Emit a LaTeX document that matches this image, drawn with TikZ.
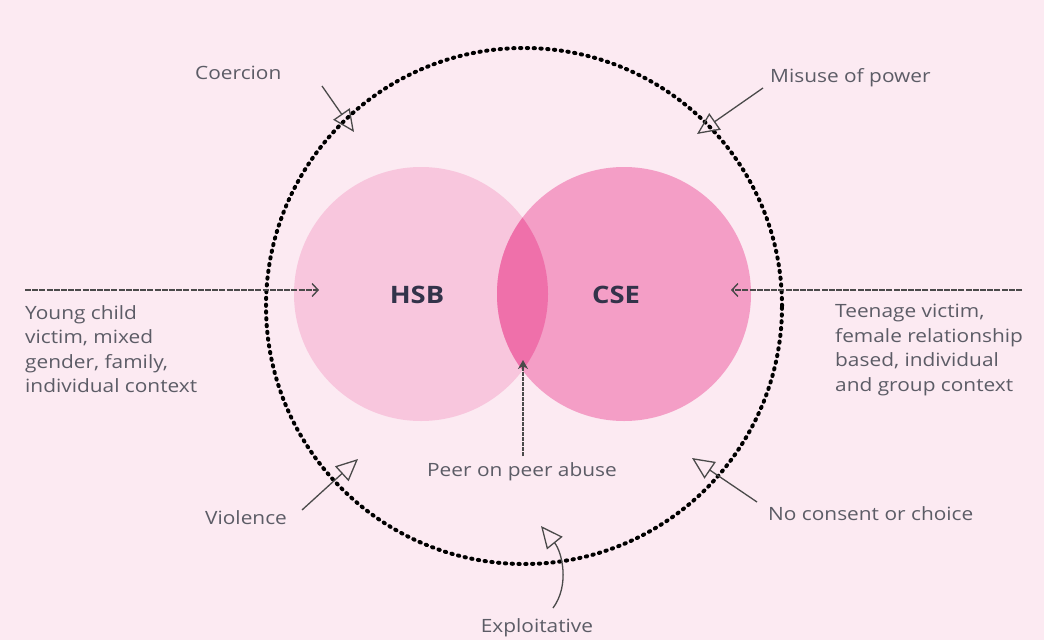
\documentclass[tikz,border=0pt]{standalone}
\usepackage{fontspec}
\setmainfont{Open Sans}
\newfontfamily\widefont[FakeStretch=1.14]{Open Sans}
\usetikzlibrary{arrows.meta}
\definecolor{bgpink}{HTML}{FCEAF2}
\definecolor{hsbpink}{HTML}{F8C6DD}
\definecolor{csepink}{HTML}{F49EC6}
\definecolor{lenspink}{HTML}{EF70AA}
\definecolor{labelgray}{HTML}{5C5C66}
\definecolor{titlenavy}{HTML}{33334A}
\definecolor{arrowgray}{HTML}{4A4A4A}
\tikzset{
  lbl/.style={text=labelgray, font=\widefont\fontsize{18.3}{24.5}\selectfont, inner sep=0pt},
  lblblock/.style={lbl, align=left, anchor=north west},
  title/.style={text=titlenavy, font=\widefont\fontsize{24}{28}\selectfont\bfseries, inner sep=0pt},
  hand/.style={draw=arrowgray, line width=1.3pt, -{Triangle[open, length=22pt, width=20pt, line width=1.3pt]}},
  context/.style={draw=arrowgray, line width=2.2pt, dash pattern=on 6pt off 1.2pt, -{Straight Barb[length=6pt, width=13pt, line width=1.4pt]}},
  peer/.style={draw=arrowgray, line width=2pt, dash pattern=on 4pt off 1pt, -{Stealth[length=9pt, width=10pt]}},
  boundary/.style={draw=black, line width=4pt, dash pattern=on 1.3pt off 5.5pt, line cap=round, circle, inner sep=0pt, minimum size=516pt}
}
\begin{document}
\begin{tikzpicture}[x=1pt,y=-1pt]
\useasboundingbox (0,0) rectangle (1044,640);
\fill[bgpink] (0,0) rectangle (1044,640);
% Venn circles
\fill[hsbpink] (421,294) circle[radius=127pt];
\fill[csepink] (624,294) circle[radius=127pt];
\begin{scope}
  \clip (421,294) circle[radius=127pt];
  \fill[lenspink] (624,294) circle[radius=127pt];
\end{scope}
\node[circle, inner sep=0pt, minimum size=254pt] (hsbc) at (421,294) {};
\node[circle, inner sep=0pt, minimum size=254pt] (csec) at (624,294) {};
\node[title] (hsb) at (417,295) {HSB};
\node[title] (cse) at (616,295) {CSE};
% outer dotted boundary
\node[boundary] (outer) at (524,306) {};
% labels
\node[lbl, anchor=west] (coercion) at (195,73) {Coercion};
\node[lbl, anchor=west] (misuse) at (770,78) {Misuse of power};
\node[lbl, anchor=west] (violence) at (205,518) {Violence};
\node[lbl, anchor=west] (noconsent) at (768,514) {No consent or choice};
\node[lbl] (peer) at (522,472) {Peer on peer abuse};
\node[lbl] (exploit) at (537,628) {Exploitative};
\node[lblblock] (young) at (25,305) {Young child\\victim, mixed\\gender, family,\\individual context};
\node[lblblock] (teen) at (835,304) {Teenage victim,\\female relationship\\based, individual\\and group context};
% arrow end points
\coordinate (coercionS) at (322,86);
\coordinate (coercionE) at (354,132);
\coordinate (misuseS) at (763,88);
\coordinate (misuseE) at (697,134);
\coordinate (violenceS) at (302,510);
\coordinate (violenceE) at (358,459);
\coordinate (noconsentS) at (757,502);
\coordinate (noconsentE) at (692,458);
\coordinate (exploitS) at (553,608);
\coordinate (exploitE) at (541,526);
\coordinate (youngS) at (25,290);
\coordinate (youngE) at (319,290);
\coordinate (teenS) at (1022,290);
\coordinate (teenE) at (731,290);
\coordinate (peerS) at (523,456);
\coordinate (peerE) at (523,360);
% arrows
\draw[hand] (coercionS) -- (coercionE);
\draw[hand] (misuseS) -- (misuseE);
\draw[hand] (violenceS) -- (violenceE);
\draw[hand] (noconsentS) -- (noconsentE);
\draw[hand] (exploitS) .. controls (570,585) and (562,552) .. (exploitE);
\draw[context] (youngS) -- (youngE);
\draw[context] (teenS) -- (teenE);
\draw[peer] (peerS) -- (peerE);
\end{tikzpicture}
\end{document}
